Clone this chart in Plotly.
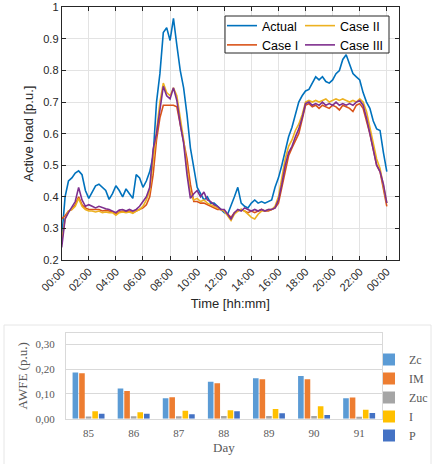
import plotly.graph_objects as go

# ---------------- Top chart data (15-min resolution, hours) ----------------
TIME_TICK_LABELS = ["00:00", "02:00", "04:00", "06:00", "08:00", "10:00", "12:00",
                    "14:00", "16:00", "18:00", "20:00", "22:00", "00:00"]
TIME_TICK_HOURS = [0, 2, 4, 6, 8, 10, 12, 14, 16, 18, 20, 22, 24]

actual = [0.27, 0.40, 0.45, 0.46, 0.475, 0.482, 0.47, 0.42, 0.395, 0.415, 0.435, 0.44,
          0.43, 0.42, 0.392, 0.41, 0.435, 0.42, 0.40, 0.425, 0.41, 0.395, 0.47, 0.46,
          0.43, 0.45, 0.48, 0.53, 0.70, 0.79, 0.92, 0.935, 0.895, 0.965, 0.88, 0.80,
          0.745, 0.66, 0.555, 0.49, 0.43, 0.41, 0.39, 0.40, 0.38, 0.38, 0.37, 0.36,
          0.35, 0.345, 0.37, 0.40, 0.43, 0.38, 0.37, 0.365, 0.38, 0.39, 0.38, 0.385,
          0.38, 0.385, 0.39, 0.43, 0.46, 0.50, 0.55, 0.59, 0.62, 0.66, 0.70, 0.72,
          0.735, 0.74, 0.76, 0.78, 0.77, 0.78, 0.765, 0.76, 0.77, 0.79, 0.80, 0.835,
          0.85, 0.82, 0.79, 0.78, 0.77, 0.73, 0.70, 0.68, 0.64, 0.615, 0.61, 0.54, 0.48]

case1 = [0.33, 0.34, 0.355, 0.36, 0.375, 0.40, 0.375, 0.365, 0.36, 0.36, 0.358, 0.36,
         0.355, 0.357, 0.355, 0.352, 0.345, 0.352, 0.355, 0.352, 0.355, 0.35, 0.355, 0.36,
         0.365, 0.375, 0.40, 0.47, 0.58, 0.65, 0.69, 0.69, 0.69, 0.69, 0.685, 0.63,
         0.58, 0.52, 0.44, 0.385, 0.385, 0.38, 0.38, 0.375, 0.37, 0.365, 0.36, 0.36,
         0.355, 0.345, 0.335, 0.35, 0.355, 0.36, 0.355, 0.35, 0.355, 0.35, 0.355, 0.36,
         0.355, 0.355, 0.36, 0.365, 0.38, 0.43, 0.49, 0.53, 0.555, 0.58, 0.60, 0.645,
         0.69, 0.695, 0.685, 0.69, 0.68, 0.69, 0.685, 0.68, 0.69, 0.685, 0.675, 0.69,
         0.685, 0.68, 0.67, 0.69, 0.695, 0.68, 0.64, 0.60, 0.55, 0.50, 0.48, 0.43, 0.37]

case2 = [0.26, 0.33, 0.355, 0.36, 0.37, 0.395, 0.37, 0.36, 0.355, 0.355, 0.352, 0.355,
         0.35, 0.352, 0.35, 0.35, 0.342, 0.35, 0.352, 0.35, 0.352, 0.348, 0.355, 0.36,
         0.37, 0.39, 0.42, 0.52, 0.62, 0.70, 0.76, 0.73, 0.72, 0.745, 0.72, 0.65,
         0.58, 0.49, 0.41, 0.39, 0.395, 0.385, 0.39, 0.38, 0.375, 0.37, 0.365, 0.36,
         0.355, 0.34, 0.325, 0.345, 0.355, 0.36, 0.355, 0.345, 0.335, 0.33, 0.345, 0.355,
         0.355, 0.36, 0.36, 0.37, 0.40, 0.46, 0.52, 0.56, 0.58, 0.61, 0.63, 0.66,
         0.70, 0.705, 0.70, 0.705, 0.70, 0.705, 0.71, 0.70, 0.705, 0.71, 0.705, 0.71,
         0.705, 0.70, 0.705, 0.70, 0.71, 0.70, 0.67, 0.62, 0.57, 0.52, 0.49, 0.44, 0.38]

case3 = [0.24, 0.33, 0.35, 0.37, 0.385, 0.43, 0.39, 0.37, 0.375, 0.37, 0.365, 0.37,
         0.365, 0.362, 0.36, 0.355, 0.35, 0.358, 0.36, 0.355, 0.36, 0.355, 0.36, 0.37,
         0.385, 0.40, 0.43, 0.55, 0.60, 0.68, 0.75, 0.72, 0.71, 0.745, 0.705, 0.63,
         0.57, 0.47, 0.395, 0.41, 0.42, 0.40, 0.415, 0.39, 0.385, 0.375, 0.37, 0.36,
         0.36, 0.345, 0.33, 0.35, 0.36, 0.355, 0.365, 0.36, 0.355, 0.36, 0.355, 0.36,
         0.355, 0.36, 0.36, 0.365, 0.39, 0.44, 0.50, 0.54, 0.56, 0.59, 0.615, 0.65,
         0.695, 0.70, 0.69, 0.695, 0.69, 0.70, 0.69, 0.695, 0.69, 0.70, 0.69, 0.695,
         0.69, 0.695, 0.69, 0.70, 0.705, 0.69, 0.65, 0.60, 0.545, 0.50, 0.48, 0.44, 0.38]

time_h = [i * 0.25 for i in range(len(actual))]

# ---------------- Bottom chart data ----------------
days = ["85", "86", "87", "88", "89", "90", "91"]
zc = [0.187, 0.122, 0.083, 0.149, 0.163, 0.172, 0.083]
im = [0.183, 0.112, 0.087, 0.143, 0.159, 0.159, 0.086]
zuc = [0.009, 0.010, 0.010, 0.011, 0.011, 0.011, 0.008]
i_vals = [0.030, 0.026, 0.032, 0.034, 0.039, 0.050, 0.036]
p_vals = [0.020, 0.020, 0.018, 0.030, 0.022, 0.015, 0.023]
awfe_ticks = [0.0, 0.1, 0.2, 0.3]
awfe_tick_text = ["0,00", "0,10", "0,20", "0,30"]

W, H = 435, 464


def px_x(p):
    return p / W


def px_y(p):
    return 1 - p / H


fig = go.Figure()

line_specs = [
    ("Actual", actual, "#0072BD", "legend", 1),
    ("Case I", case1, "#D95319", "legend", 2),
    ("Case II", case2, "#EDB120", "legend2", 1),
    ("Case III", case3, "#7E2F8E", "legend2", 2),
]
for name, vals, col, lg, rank in line_specs:
    fig.add_trace(go.Scatter(x=time_h, y=vals, mode="lines", name=name,
                             line=dict(color=col, width=1.6),
                             xaxis="x", yaxis="y", legend=lg, legendrank=rank))

bar_specs = [
    ("Zc", zc, "#5B9BD5"),
    ("IM", im, "#ED7D31"),
    ("Zuc", zuc, "#A5A5A5"),
    ("I", i_vals, "#FFC000"),
    ("P", p_vals, "#4472C4"),
]
for name, vals, col in bar_specs:
    fig.add_trace(go.Bar(x=days, y=vals, name=name, marker=dict(color=col, line=dict(width=0)),
                         xaxis="x2", yaxis="y2", legend="legend3"))

sans = "Liberation Sans, Arial, sans-serif"
serif = "Liberation Serif, Times New Roman, serif"

fig.update_layout(
    width=W, height=H,
    margin=dict(l=0, r=0, t=0, b=0, autoexpand=False),
    paper_bgcolor="white", plot_bgcolor="white",
    barmode="group", bargap=0.27, bargroupgap=0.15,
    xaxis=dict(domain=[px_x(61.7), px_x(399)], range=[0, 24.9], automargin=False,
               tickvals=TIME_TICK_HOURS, ticktext=TIME_TICK_LABELS, tickangle=-45,
               showgrid=True, gridcolor="#E3E3E3", gridwidth=1,
               showline=True, linecolor="#262626", linewidth=1, mirror="ticks",
               ticks="inside", ticklen=4, tickcolor="#262626", zeroline=False,
               tickfont=dict(family=sans, size=11, color="#262626"),
               title=dict(text="Time [hh:mm]", font=dict(family=sans, size=13, color="#262626"),
                          standoff=6),
               anchor="y"),
    yaxis=dict(domain=[px_y(260), px_y(7.3)], range=[0.2, 1.0], automargin=False,
               tickvals=[0.2, 0.3, 0.4, 0.5, 0.6, 0.7, 0.8, 0.9, 1.0],
               ticktext=["0.2", "0.3", "0.4", "0.5", "0.6", "0.7", "0.8", "0.9", "1"],
               showgrid=True, gridcolor="#E3E3E3", gridwidth=1,
               showline=True, linecolor="#262626", linewidth=1, mirror="ticks",
               ticks="inside", ticklen=4, tickcolor="#262626", zeroline=False,
               tickfont=dict(family=sans, size=11, color="#262626"),
               title=dict(text="Active load [p.u.]", font=dict(family=sans, size=13, color="#262626"),
                          standoff=6),
               anchor="x"),
    xaxis2=dict(domain=[px_x(66), px_x(381.7)], type="category", automargin=False,
                showgrid=False, showline=True, linecolor="#D9D9D9", linewidth=1, mirror=True,
                ticks="", tickfont=dict(family=serif, size=11, color="#595959"),
                ticklabelstandoff=4,
                title=dict(text="Day", font=dict(family=serif, size=13, color="#595959"), standoff=4),
                anchor="y2"),
    yaxis2=dict(domain=[px_y(418.7), px_y(333)], range=[0, 0.346], automargin=False,
                tickvals=awfe_ticks, ticktext=awfe_tick_text,
                showgrid=True, gridcolor="#D9D9D9", gridwidth=1, zeroline=False,
                showline=True, linecolor="#D9D9D9", linewidth=1, mirror=True,
                ticks="", tickfont=dict(family=serif, size=11, color="#595959"),
                ticklabelstandoff=8,
                title=dict(text="AWFE (p.u.)", font=dict(family=serif, size=13, color="#595959"),
                           standoff=4),
                anchor="x2"),
    legend=dict(xref="container", yref="container", x=px_x(222), y=px_y(11),
                xanchor="left", yanchor="top",
                bgcolor="rgba(0,0,0,0)", borderwidth=0, tracegroupgap=0,
                font=dict(family=sans, size=12.5, color="black"), itemwidth=30),
    legend2=dict(xref="container", yref="container", x=px_x(300), y=px_y(11),
                 xanchor="left", yanchor="top",
                 bgcolor="rgba(0,0,0,0)", borderwidth=0, tracegroupgap=0,
                 font=dict(family=sans, size=12.5, color="black"), itemwidth=30),
    legend3=dict(xref="container", yref="container", x=px_x(369), y=px_y(345),
                 xanchor="left", yanchor="top",
                 bgcolor="rgba(0,0,0,0)", borderwidth=0,
                 font=dict(family=serif, size=12, color="#595959")),
    showlegend=True,
    shapes=[
        dict(type="rect", xref="paper", yref="paper",
             x0=px_x(225), x1=px_x(389), y0=px_y(53), y1=px_y(16),
             fillcolor="white", line=dict(color="#262626", width=1), layer="above"),
        dict(type="rect", xref="paper", yref="paper",
             x0=px_x(4), x1=px_x(431), y0=px_y(470), y1=px_y(325),
             fillcolor="rgba(0,0,0,0)", line=dict(color="#E6E6E6", width=1), layer="below"),
    ],
)

fig.write_html("out.html",
               config={"displayModeBar": False},
               post_script="document.body.style.margin='0';document.body.style.padding='0';")
